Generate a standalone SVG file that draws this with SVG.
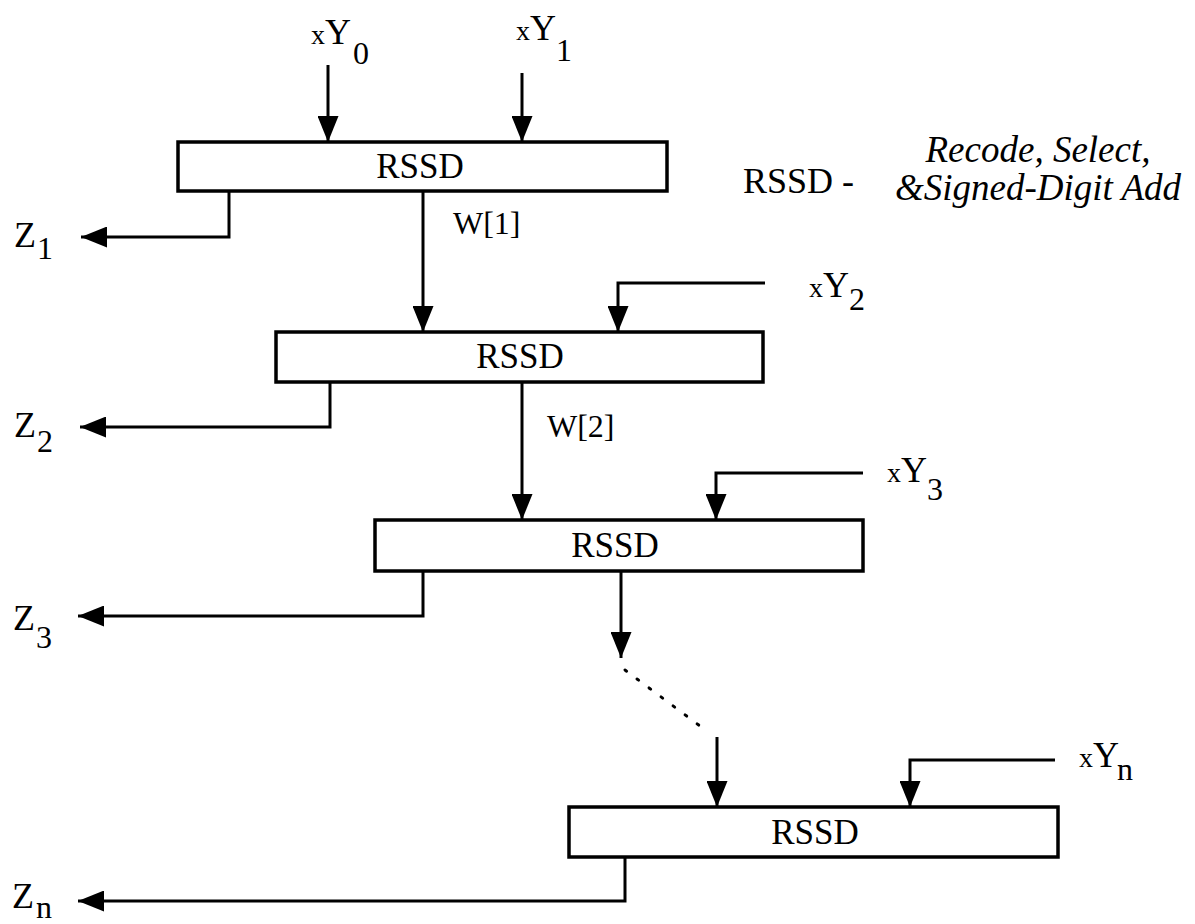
<svg xmlns="http://www.w3.org/2000/svg" width="1195" height="924" viewBox="0 0 1195 924">
<style>
.box{fill:#fff;stroke:#000;stroke-width:3.5}
.lbl{font-size:35px;text-anchor:middle}
.io{font-size:36px}
.sx{font-size:28px}
.sub{font-size:32px}
.w{font-size:32px}
.it{font-size:37px;font-style:italic;text-anchor:middle}
.ln{fill:none;stroke:#000;stroke-width:3}
.ar{marker-end:url(#ah)}
.dot{fill:none;stroke:#000;stroke-width:3;stroke-dasharray:2 13;stroke-linecap:round}
</style>
<defs>
<marker id="ah" viewBox="0 0 26 21" refX="26" refY="10.5" markerWidth="26" markerHeight="21" markerUnits="userSpaceOnUse" orient="auto">
<path d="M0,0 L26,10.5 L0,21 z" fill="#000"/>
</marker>
</defs>
<g id="connectors">
<path class="ln ar" d="M328,65 V142"/>
<path class="ln ar" d="M522,73 V142"/>
<path class="ln ar" d="M229,191 V237 H81"/>
<path class="ln ar" d="M423,191 V332"/>
<path class="ln ar" d="M765,283 H618 V332"/>
<path class="ln ar" d="M330,382 V427 H80"/>
<path class="ln ar" d="M522,382 V520"/>
<path class="ln ar" d="M863,473 H716 V520"/>
<path class="ln ar" d="M423,571 V616 H78"/>
<path class="ln ar" d="M621,571 V658"/>
<path class="dot" d="M625,670 L700,726"/>
<path class="ln ar" d="M717,737 V807"/>
<path class="ln ar" d="M1055,760 H910 V807"/>
<path class="ln ar" d="M625,857 V901 H78"/>
</g>
<g id="rssd1" font-family="Liberation Serif, serif">
<rect class="box" x="178" y="142" width="489" height="49"/>
<text class="lbl" x="420" y="178">RSSD</text>
</g>
<g id="rssd2" font-family="Liberation Serif, serif">
<rect class="box" x="276" y="332" width="487" height="50"/>
<text class="lbl" x="520" y="368">RSSD</text>
</g>
<g id="rssd3" font-family="Liberation Serif, serif">
<rect class="box" x="375" y="520" width="488" height="51"/>
<text class="lbl" x="615" y="557">RSSD</text>
</g>
<g id="rssd4" font-family="Liberation Serif, serif">
<rect class="box" x="569" y="807" width="489" height="50"/>
<text class="lbl" x="815" y="844">RSSD</text>
</g>
<g id="labels" font-family="Liberation Serif, serif">
<text class="io" x="311" y="44"><tspan class="sx">x</tspan>Y<tspan class="sub" x="353" y="64">0</tspan></text>
<text class="io" x="516" y="40"><tspan class="sx">x</tspan>Y<tspan class="sub" x="556" y="61">1</tspan></text>
<text class="io" x="809" y="297"><tspan class="sx">x</tspan>Y<tspan class="sub" x="849" y="310">2</tspan></text>
<text class="io" x="887" y="482"><tspan class="sx">x</tspan>Y<tspan class="sub" x="927" y="500">3</tspan></text>
<text class="io" x="1079" y="767"><tspan class="sx">x</tspan>Y<tspan class="sub" x="1117" y="780">n</tspan></text>
<text class="io" x="14" y="247">Z<tspan class="sub" x="37" y="259">1</tspan></text>
<text class="io" x="14" y="437">Z<tspan class="sub" x="37" y="452">2</tspan></text>
<text class="io" x="13" y="630">Z<tspan class="sub" x="36" y="648">3</tspan></text>
<text class="io" x="12" y="908">Z<tspan class="sub" x="36" y="918">n</tspan></text>
<text class="w" x="453" y="234">W[1]</text>
<text class="w" x="547" y="437">W[2]</text>
<text class="io" x="743" y="193">RSSD -</text>
<text class="it" x="1038" y="162">Recode, Select,</text>
<text class="it" x="1038" y="200">&amp;Signed-Digit Add</text>
</g>
</svg>
